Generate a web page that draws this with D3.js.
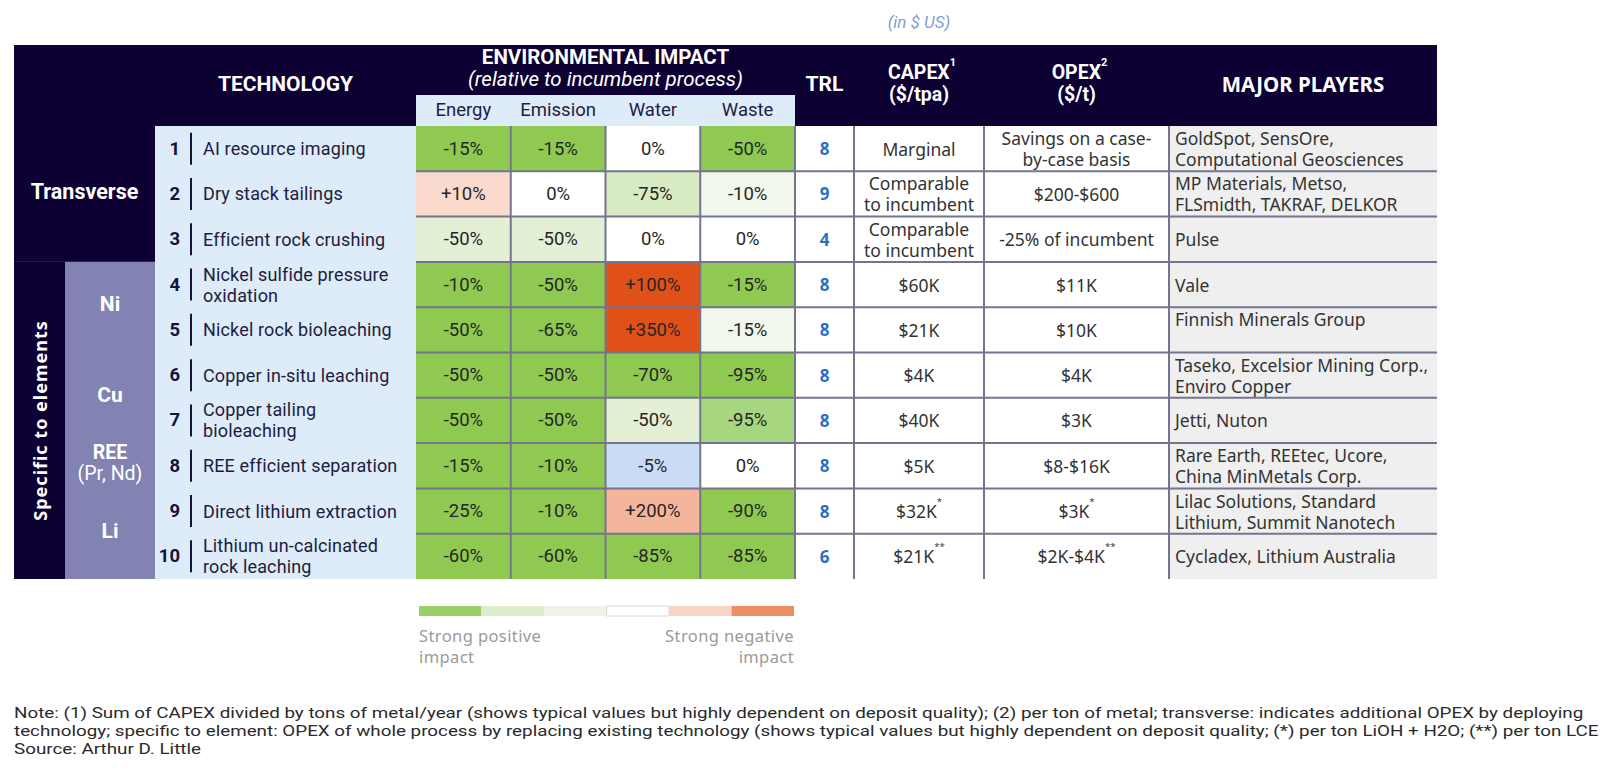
<!DOCTYPE html>
<html><head><meta charset="utf-8">
<script src="https://cdn.jsdelivr.net/npm/d3@7"></script>
<style>body{margin:0;background:#fff} svg{display:block}</style>
</head><body><svg id="c" width="1622" height="778"></svg>
<script>
// ---------------- DATA ----------------
const techNumbers = [1, 2, 3, 4, 5, 6, 7, 8, 9, 10];
const techNames = [
  "AI resource imaging", "Dry stack tailings", "Efficient rock crushing",
  "Nickel sulfide pressure|oxidation", "Nickel rock bioleaching", "Copper in-situ leaching",
  "Copper tailing|bioleaching", "REE efficient separation", "Direct lithium extraction",
  "Lithium un-calcinated|rock leaching"];
const impactMetrics = ["Energy", "Emission", "Water", "Waste"];
const energy   = ["-15%", "+10%", "-50%", "-10%", "-50%", "-50%", "-50%", "-15%", "-25%", "-60%"];
const emission = ["-15%", "0%", "-50%", "-50%", "-65%", "-50%", "-50%", "-10%", "-10%", "-60%"];
const water    = ["0%", "-75%", "0%", "+100%", "+350%", "-70%", "-50%", "-5%", "+200%", "-85%"];
const waste    = ["-50%", "-10%", "0%", "-15%", "-15%", "-95%", "-95%", "0%", "-90%", "-85%"];
// impact level of each cell (as coloured in the source)
const energyLevel   = ["strong", "neg1", "light2", "strong", "strong", "strong", "strong", "strong", "strong", "strong"];
const emissionLevel = ["strong", "none", "light2", "strong", "strong", "strong", "strong", "strong", "strong", "strong"];
const waterLevel    = ["none", "light1", "none", "neg3", "neg3", "strong", "light2", "blue", "neg2", "strong"];
const wasteLevel    = ["strong", "faint", "none", "strong", "faint", "strong", "mid", "none", "strong", "strong"];
const trl = [8, 9, 4, 8, 8, 8, 8, 8, 8, 6];
const capex = ["Marginal", "Comparable|to incumbent", "Comparable|to incumbent", "$60K", "$21K",
  "$4K", "$40K", "$5K", "$32K*", "$21K**"];
const opex = ["Savings on a case-|by-case basis", "$200-$600", "-25% of incumbent", "$11K", "$10K",
  "$4K", "$3K", "$8-$16K", "$3K*", "$2K-$4K**"];
const players = ["GoldSpot, SensOre,|Computational Geosciences", "MP Materials, Metso,|FLSmidth, TAKRAF, DELKOR",
  "Pulse", "Vale", "Finnish Minerals Group|", "Taseko, Excelsior Mining Corp.,|Enviro Copper",
  "Jetti, Nuton", "Rare Earth, REEtec, Ucore,|China MinMetals Corp.", "Lilac Solutions, Standard|Lithium, Summit Nanotech",
  "Cycladex, Lithium Australia"];
const groupName = "Transverse";
const groupRows = [0, 2];
const specificName = "Specific to elements";
const elementNames = ["Ni", "Cu", "REE", "Li"];
const elementSubs = ["", "", "(Pr, Nd)", ""];
const elementFirstRow = [3, 5, 7, 8];
const elementLastRow = [4, 6, 7, 9];
const legendLevels = ["s1", "s2", "s3", "s4", "s5", "s6"];
const legendLeft = "Strong positive|impact";
const legendRight = "Strong negative|impact";
const unitNote = "(in $ US)";
const notes = [
  "Note: (1) Sum of CAPEX divided by tons of metal/year (shows typical values but highly dependent on deposit quality); (2) per ton of metal; transverse: indicates additional OPEX by deploying",
  "technology; specific to element: OPEX of whole process by replacing existing technology (shows typical values but highly dependent on deposit quality; (*) per ton LiOH + H2O; (**) per ton LCE",
  "Source: Arthur D. Little"];

// ---------------- LAYOUT / STYLE ----------------
const L = {x0: 14, x1: 1437, headTop: 45, subTop: 95, bodyTop: 126, bodyBot: 579,
  stripR: 65, elemR: 155, techR: 416, envR: 795, trlR: 854, capexR: 984, opexR: 1169};
const NAVY = "#0d0033", LBLUE = "#deebf9", PURPLE = "#8383b3", GRID = "#74748e";
const COND = "Roboto, 'Liberation Sans', sans-serif";
const REG = "'Noto Sans', 'Open Sans', sans-serif";
const levelColor = d3.scaleOrdinal()
  .domain(["strong", "mid", "light1", "light2", "faint", "none", "blue", "neg1", "neg2", "neg3",
           "s1", "s2", "s3", "s4", "s5", "s6"])
  .range(["#8fc951", "#a8d57f", "#d7eac3", "#e3f0d6", "#f1f7ea", "#ffffff", "#c9dbf5", "#f9dacd", "#f3b59b", "#e0511a",
          "#9ad166", "#dcedcc", "#eef5e6", "#ffffff", "#f9d5c5", "#ee8f63"]);

const svg = d3.select("#c");
const y = d3.scaleBand().domain(d3.range(10)).range([L.bodyTop, L.bodyBot]);
const xEnv = d3.scaleBand().domain(impactMetrics).range([L.techR, L.envR]);
const LH = 21;

// multi-line text in ONE <text> element; "|" separates lines, trailing "*" become superscripts
function multiline(g, x, cy, str, opts) {
  const lines = str.split("|");
  const n = lines.length;
  const t = g.append("text").attr("x", x).attr("text-anchor", opts.anchor || "middle")
    .attr("font-family", opts.font).attr("font-size", opts.size).attr("fill", opts.fill)
    .attr("font-weight", opts.weight || 400).attr("font-style", opts.style || "normal");
  if (opts.ls) t.attr("letter-spacing", opts.ls);
  lines.forEach((ln, i) => {
    const yy = cy + (i - (n - 1) / 2) * (opts.lh || LH);
    const m = ln.match(/^(.*?)(\*+)$/);
    const base = m ? m[1] : ln;
    const sp = t.append("tspan").attr("x", x).attr("y", yy).attr("dominant-baseline", "central").text(base);
    if (opts.weights) sp.attr("font-weight", opts.weights[i]);
    if (m) t.append("tspan").attr("font-size", opts.size * 0.55).attr("dy", -6).text(m[2]);
  });
  return t;
}

// ---------------- HEADER ----------------
svg.append("rect").attr("x", L.x0).attr("y", L.headTop).attr("width", L.x1 - L.x0)
  .attr("height", L.bodyTop - L.headTop).attr("fill", NAVY);
svg.append("rect").attr("x", L.techR).attr("y", L.subTop).attr("width", L.envR - L.techR)
  .attr("height", L.bodyTop - L.subTop).attr("fill", LBLUE);

svg.append("text").attr("x", (L.capexR + L.trlR) / 2).attr("y", 22).attr("text-anchor", "middle")
  .attr("dominant-baseline", "central").attr("font-family", COND).attr("font-style", "italic")
  .attr("font-size", 17).attr("fill", "#7f9fd4").text(unitNote);

const hdr = svg.append("g");
multiline(hdr, (L.elemR + L.techR) / 2, 84, "TECHNOLOGY", {font: COND, size: 21, weight: 700, fill: "#fff"});
multiline(hdr, (L.techR + L.envR) / 2, 68, "ENVIRONMENTAL IMPACT|(relative to incumbent process)",
  {font: COND, size: 20.5, fill: "#fff", lh: 22, weights: [700, 400]})
  .call(t => t.selectAll("tspan").filter((d, i) => i === 1).attr("font-style", "italic"));
multiline(hdr, (L.envR + L.trlR) / 2, 84, "TRL", {font: COND, size: 21, weight: 700, fill: "#fff"});
function supHeader(cx, l1, sup, l2) {
  const t = hdr.append("text").attr("text-anchor", "middle").attr("font-family", COND)
    .attr("font-weight", 700).attr("font-size", 19.5).attr("fill", "#fff");
  t.append("tspan").attr("x", cx + 3).attr("y", 72).attr("dominant-baseline", "central").text(l1);
  t.append("tspan").attr("font-size", 11).attr("dy", -6).text(sup);
  t.append("tspan").attr("x", cx).attr("y", 94).attr("dominant-baseline", "central").text(l2);
}
supHeader((L.trlR + L.capexR) / 2, "CAPEX", "1", "($/tpa)");
supHeader((L.capexR + L.opexR) / 2, "OPEX", "2", "($/t)");
multiline(hdr, (L.opexR + L.x1) / 2, 84, "MAJOR PLAYERS", {font: REG, size: 20.5, weight: 700, fill: "#fff"});
impactMetrics.forEach(m => {
  multiline(svg, xEnv(m) + xEnv.bandwidth() / 2, 110, m, {font: COND, size: 18.5, fill: "#1d1d45"});
});

// ---------------- LEFT GROUPS ----------------
svg.append("rect").attr("x", L.x0).attr("y", L.bodyTop).attr("width", L.elemR - L.x0)
  .attr("height", y(groupRows[1]) + y.bandwidth() - L.bodyTop).attr("fill", NAVY);
svg.append("rect").attr("x", L.x0).attr("y", y(elementFirstRow[0])).attr("width", L.stripR - L.x0)
  .attr("height", L.bodyBot - y(elementFirstRow[0])).attr("fill", NAVY);
svg.append("rect").attr("x", L.stripR).attr("y", y(elementFirstRow[0])).attr("width", L.elemR - L.stripR)
  .attr("height", L.bodyBot - y(elementFirstRow[0])).attr("fill", PURPLE);
svg.append("rect").attr("x", L.elemR).attr("y", L.bodyTop).attr("width", L.techR - L.elemR)
  .attr("height", L.bodyBot - L.bodyTop).attr("fill", LBLUE);

multiline(svg, (L.x0 + L.elemR) / 2, (y(groupRows[0]) + y(groupRows[1]) + y.bandwidth()) / 2 - 2, groupName,
  {font: COND, size: 21.5, weight: 700, fill: "#fff"});
const specCy = (y(elementFirstRow[0]) + L.bodyBot) / 2;
svg.append("text").attr("transform", `translate(${(L.x0 + L.stripR) / 2},${specCy}) rotate(-90)`)
  .attr("text-anchor", "middle").attr("dominant-baseline", "central").attr("font-family", REG)
  .attr("font-weight", 700).attr("font-size", 18).attr("fill", "#fff").attr("letter-spacing", 1).text(specificName);
elementNames.forEach((e, i) => {
  const cy = (y(elementFirstRow[i]) + y(elementLastRow[i]) + y.bandwidth()) / 2 - 3;
  const cx = (L.stripR + L.elemR) / 2;
  if (elementSubs[i]) {
    multiline(svg, cx, cy, e + "|" + elementSubs[i], {font: COND, size: 19.5, fill: "#fff", lh: 21, weights: [700, 400]});
  } else {
    multiline(svg, cx, cy, e, {font: COND, size: 21, weight: 700, fill: "#fff"});
  }
});

// ---------------- TECHNOLOGY COLUMN ----------------
const tech = svg.append("g");
techNames.forEach((name, i) => {
  const cy = y(i) + y.bandwidth() / 2;
  multiline(tech, 180, cy, String(techNumbers[i]), {font: COND, size: 18.5, weight: 700, fill: "#14143a", anchor: "end"});
  tech.append("line").attr("x1", 191).attr("x2", 191).attr("y1", cy - 16).attr("y2", cy + 16)
    .attr("stroke", "#14143a").attr("stroke-width", 2);
  multiline(tech, 203, cy, name, {font: COND, size: 18, fill: "#1d1d40", anchor: "start", ls: 0.15});
});

// ---------------- ENVIRONMENTAL IMPACT CELLS ----------------
const envVals = [energy, emission, water, waste];
const envLevels = [energyLevel, emissionLevel, waterLevel, wasteLevel];
const env = svg.append("g");
impactMetrics.forEach((m, j) => {
  envVals[j].forEach((v, i) => {
    env.append("rect").attr("x", xEnv(m)).attr("y", y(i)).attr("width", xEnv.bandwidth())
      .attr("height", y.bandwidth()).attr("fill", levelColor(envLevels[j][i]));
    multiline(env, xEnv(m) + xEnv.bandwidth() / 2, y(i) + y.bandwidth() / 2, v,
      {font: COND, size: 18.5, fill: "#262626"});
  });
});

// ---------------- DATA COLUMNS ----------------
svg.append("rect").attr("x", L.opexR).attr("y", L.bodyTop).attr("width", L.x1 - L.opexR)
  .attr("height", L.bodyBot - L.bodyTop).attr("fill", "#efefef");
const data = svg.append("g");
trl.forEach((v, i) => {
  const cy = y(i) + y.bandwidth() / 2;
  multiline(data, (L.envR + L.trlR) / 2, cy, String(v), {font: REG, size: 17, weight: 700, fill: "#2d6fc4"});
  multiline(data, (L.trlR + L.capexR) / 2, cy, capex[i], {font: REG, size: 17.5, fill: "#333"});
  multiline(data, (L.capexR + L.opexR) / 2, cy, opex[i], {font: REG, size: 17.5, fill: "#333"});
  multiline(data, L.opexR + 6, cy, players[i], {font: REG, size: 17.5, fill: "#333", anchor: "start"});
});

// ---------------- GRID ----------------
const grid = svg.append("g").attr("stroke", GRID).attr("stroke-width", 2);
d3.range(1, 10).forEach(i => {
  grid.append("line").attr("x1", L.techR).attr("x2", L.x1).attr("y1", y(i)).attr("y2", y(i));
});
impactMetrics.slice(1).forEach(m => {
  grid.append("line").attr("x1", xEnv(m)).attr("x2", xEnv(m)).attr("y1", L.bodyTop).attr("y2", L.bodyBot);
});
[L.envR, L.trlR, L.capexR, L.opexR].forEach(x => {
  grid.append("line").attr("x1", x).attr("x2", x).attr("y1", L.bodyTop).attr("y2", L.bodyBot);
});

// ---------------- LEGEND ----------------
const lx = d3.scaleBand().domain(legendLevels).range([419, 794]);
const leg = svg.append("g");
legendLevels.forEach(l => {
  leg.append("rect").attr("x", lx(l)).attr("y", 606).attr("width", lx.bandwidth()).attr("height", 10)
    .attr("fill", levelColor(l)).attr("stroke", l === "s4" ? "#d8d8d8" : "none");
});
multiline(leg, 419, 646, legendLeft, {font: REG, size: 16.5, fill: "#9a9a9a", anchor: "start", ls: 0.4, lh: 20.5});
multiline(leg, 794, 646, legendRight, {font: REG, size: 16.5, fill: "#9a9a9a", anchor: "end", ls: 0.4, lh: 20.5});

// ---------------- NOTES ----------------
const noteG = svg.append("g");
const NOTE_SIZE = 15.5;
const probe = noteG.append("text").attr("font-family", COND).attr("font-size", NOTE_SIZE).text(notes[0]);
const wNat = probe.node().getComputedTextLength();
probe.remove();
const sx = 1571 / wNat;
const noteInner = noteG.append("g").attr("transform", `translate(14,0) scale(${sx},1)`);
multiline(noteInner, 0, 731, notes.join("|"), {font: COND, size: NOTE_SIZE, fill: "#2a2a2a", anchor: "start", lh: 18});
</script></body></html>
